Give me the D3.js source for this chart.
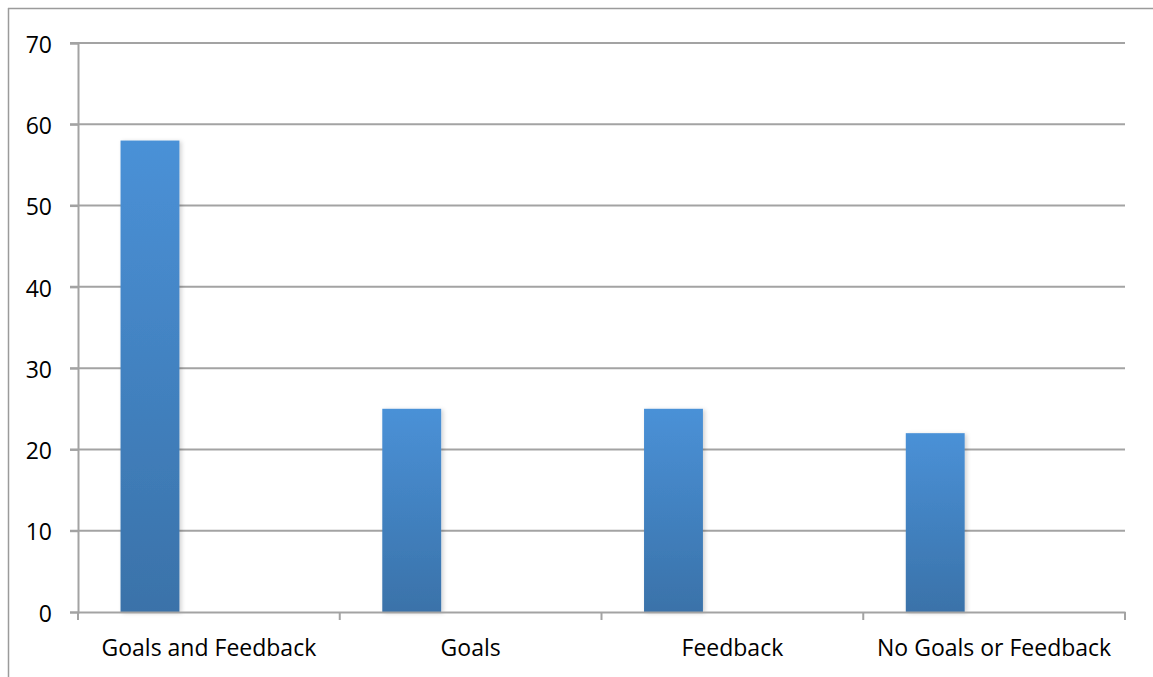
<!DOCTYPE html>
<meta charset="utf-8">
<html>
<head>
<style>
  body { margin: 0; background: #fff; }
  svg text { font-family: "Open Sans", "Liberation Sans", sans-serif; fill: #000; }
</style>
</head>
<body>
<div id="chart"></div>
<script src="https://d3js.org/d3.v7.min.js"></script>
<script>

// data
var categories = ["Goals and Feedback", "Goals", "Feedback", "No Goals or Feedback"];
var seriesNames = ["Series 1", "Series 2", "Series 3"];
var series1 = [58, 25, 25, 22];
var yTicks = [0, 10, 20, 30, 40, 50, 60, 70];

var W = 1153, H = 677;
var margin = {top: 43, right: 28, bottom: 65, left: 78},
    width = W - margin.left - margin.right,
    height = H - margin.top - margin.bottom;

var svg = d3.select("#chart")
  .append("svg")
    .attr("width", W)
    .attr("height", H);

// outer frame (only top and left edges show)
svg.append("line").attr("x1", 8).attr("x2", W).attr("y1", 8.5).attr("y2", 8.5)
  .attr("stroke", "#9b9b9b").attr("stroke-width", 1.5);
svg.append("line").attr("x1", 8.5).attr("x2", 8.5).attr("y1", 8).attr("y2", H)
  .attr("stroke", "#9b9b9b").attr("stroke-width", 1.5);

var defs = svg.append("defs");
var grad = defs.append("linearGradient")
  .attr("id", "barGrad").attr("x1", 0).attr("x2", 0).attr("y1", 0).attr("y2", 1);
grad.append("stop").attr("offset", "0%").attr("stop-color", "#4a91d7");
grad.append("stop").attr("offset", "100%").attr("stop-color", "#3a72a9");

var shadow = defs.append("filter").attr("id", "shadow")
  .attr("x", "-20%").attr("y", "-5%").attr("width", "150%").attr("height", "115%");
shadow.append("feDropShadow").attr("dx", 2).attr("dy", 1).attr("stdDeviation", 2)
  .attr("flood-color", "#000").attr("flood-opacity", 0.18);

var g = svg.append("g")
  .attr("transform", "translate(" + margin.left + "," + margin.top + ")");

var x = d3.scaleBand()
  .domain(categories)
  .range([0, width])
  .padding(0);

var y = d3.scaleLinear()
  .domain([0, 70])
  .range([height, 0]);

// 3 slots per category, only the first one is filled
var gap = x.bandwidth() * 0.1625;
var xSub = d3.scaleBand()
  .domain(seriesNames)
  .range([gap, x.bandwidth() - gap]);

// gridlines
g.append("g")
  .selectAll("line")
  .data(yTicks.filter(function(d) { return d > 0; }))
  .enter().append("line")
    .attr("x1", -8)
    .attr("x2", width)
    .attr("y1", function(d) { return y(d); })
    .attr("y2", function(d) { return y(d); })
    .attr("stroke", "#a3a3a3")
    .attr("stroke-width", 2);

// y axis
var yAxis = g.append("g")
  .call(d3.axisLeft(y).tickValues(yTicks).tickSize(8).tickPadding(18));
yAxis.select(".domain").attr("stroke", "#a3a3a3").attr("stroke-width", 2);
yAxis.selectAll(".tick line").attr("stroke", "#a3a3a3").attr("stroke-width", 2);
yAxis.selectAll("text").style("font-size", "23px").attr("dy", "0.4em");

// bars
g.append("g")
  .selectAll("rect")
  .data(series1)
  .enter().append("rect")
    .attr("x", function(d, i) { return x(categories[i]) + xSub("Series 1"); })
    .attr("y", function(d) { return y(d); })
    .attr("width", xSub.bandwidth())
    .attr("height", function(d) { return height - y(d); })
    .attr("fill", "url(#barGrad)")
    .attr("filter", "url(#shadow)");

// x axis
var xAxis = g.append("g")
  .attr("transform", "translate(0," + height + ")")
  .call(d3.axisBottom(x).tickSize(0).tickPadding(28));
xAxis.select(".domain").attr("stroke", "#a3a3a3").attr("stroke-width", 2);
xAxis.selectAll("text").style("font-size", "23px");

// category boundary ticks
g.append("g")
  .selectAll("line")
  .data(d3.range(categories.length + 1))
  .enter().append("line")
    .attr("x1", function(i) { return i * x.bandwidth(); })
    .attr("x2", function(i) { return i * x.bandwidth(); })
    .attr("y1", height)
    .attr("y2", height + 8)
    .attr("stroke", "#a3a3a3")
    .attr("stroke-width", 2);

</script>
</body>
</html>
